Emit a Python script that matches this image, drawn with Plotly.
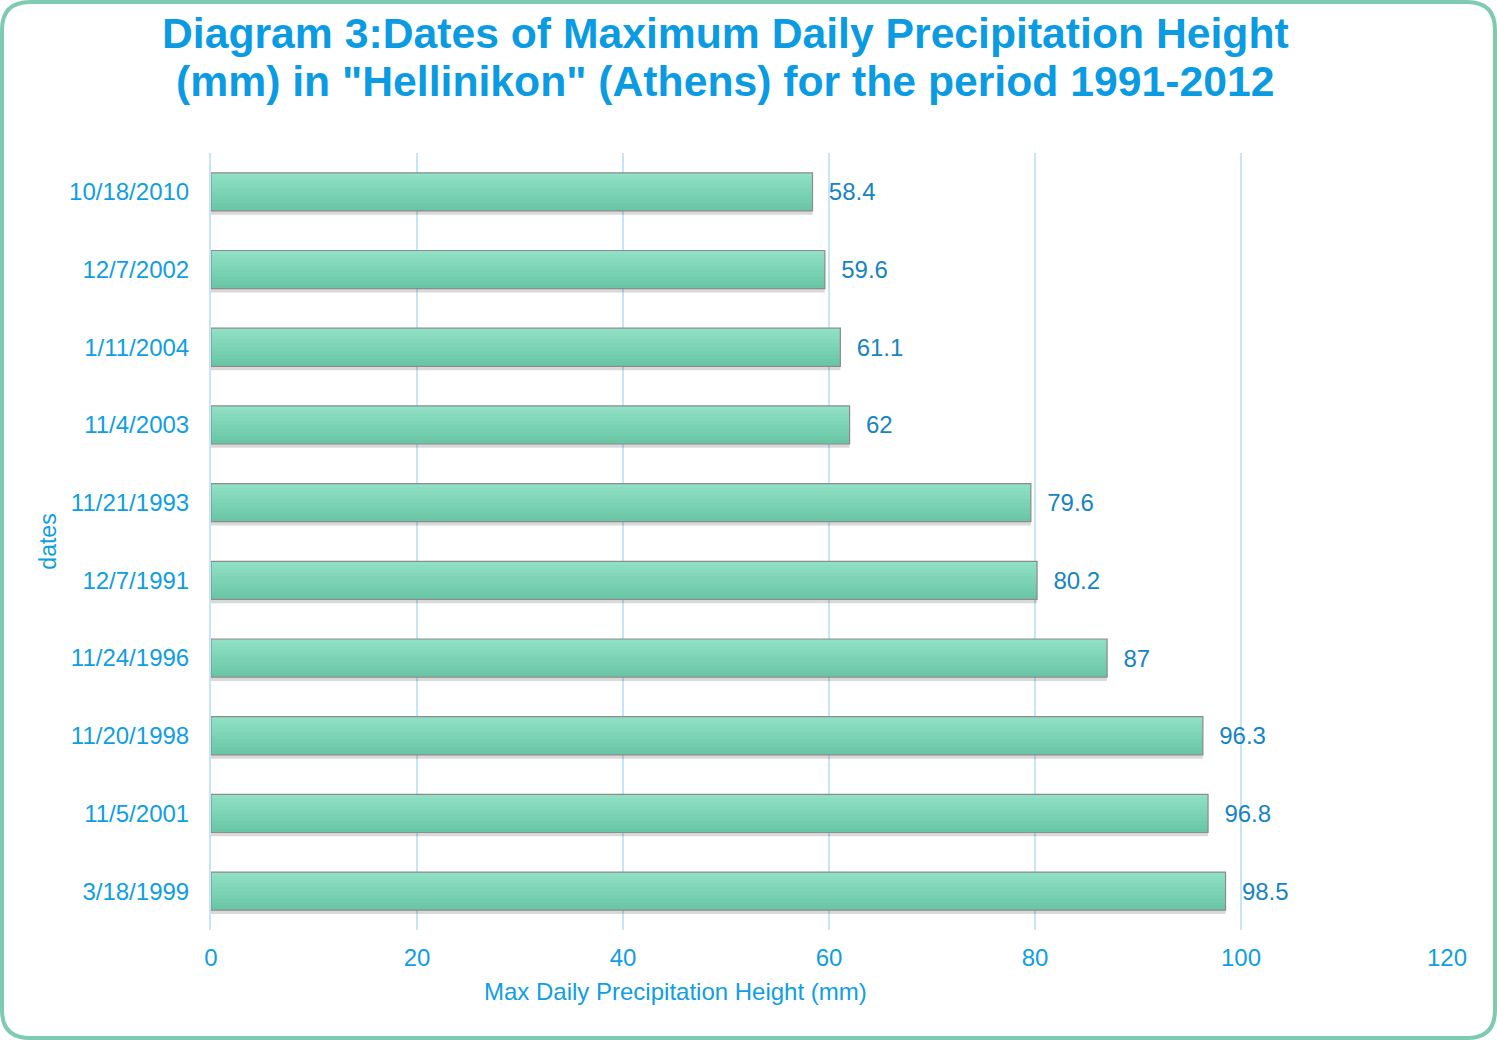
import plotly.graph_objects as go

dates = ["10/18/2010", "12/7/2002", "1/11/2004", "11/4/2003", "11/21/1993",
         "12/7/1991", "11/24/1996", "11/20/1998", "11/5/2001", "3/18/1999"]
values = [58.4, 59.6, 61.1, 62, 79.6, 80.2, 87, 96.3, 96.8, 98.5]
x_ticks = [0, 20, 40, 60, 80, 100, 120]
title_lines = ["Diagram 3:Dates of Maximum Daily Precipitation Height",
               "(mm) in \"Hellinikon\" (Athens) for the period 1991-2012"]

W, H = 1497, 1040
L, R, T, B = 211, 50, 153, 110
pw, ph = W - L - R, H - T - B

def px(x):
    return (x - L) / pw

def py(y):
    return (H - B - y) / ph

FONT = "Liberation Sans, Arial, sans-serif"
BLUE = "#0f9ee3"
LBLUE = "#1784c2"
BW = 0.49

fig = go.Figure()

# soft shadow below bars
fig.add_trace(go.Bar(
    y=dates, x=values, orientation="h", width=BW, offset=-BW / 2 + 0.05,
    marker=dict(color="rgba(0,0,0,0.15)", line=dict(width=0)),
    hoverinfo="skip",
))

# vertical gradient (top light -> bottom darker) built from strips
n = 10
top_c = (143, 224, 197)
bot_c = (106, 198, 166)
sw = BW / n
for i in range(n):
    t = i / (n - 1)
    c = tuple(round(top_c[k] + (bot_c[k] - top_c[k]) * t) for k in range(3))
    w = sw if i == n - 1 else sw * 1.8
    fig.add_trace(go.Bar(
        y=dates, x=values, orientation="h", width=w,
        offset=-BW / 2 + i * sw,
        marker=dict(color=f"rgb{c}", line=dict(width=0)),
        hoverinfo="skip",
    ))

# outline + value labels
fig.add_trace(go.Bar(
    y=dates, x=values, orientation="h", width=BW,
    marker=dict(color="rgba(0,0,0,0)", line=dict(color="#8c8c8c", width=1.2)),
    texttemplate="\u00a0\u00a0%{x}", textposition="outside",
    textfont=dict(family=FONT, size=24, color=LBLUE),
    cliponaxis=False,
    hoverinfo="x+y",
))

# rounded frame
x0, y0, x1, y1, r = px(2), py(2), px(1495), py(1038), 28
rx, ry = r / pw, r / ph
path = (f"M {x0+rx},{y0} L {x1-rx},{y0} Q {x1},{y0} {x1},{y0-ry} "
        f"L {x1},{y1+ry} Q {x1},{y1} {x1-rx},{y1} L {x0+rx},{y1} "
        f"Q {x0},{y1} {x0},{y1+ry} L {x0},{y0-ry} Q {x0},{y0} {x0+rx},{y0} Z")
fig.add_shape(type="path", path=path, xref="paper", yref="paper",
              line=dict(color="#7fcbb0", width=4), layer="below")

# title lines
for txt, yc in zip(title_lines, [33, 81]):
    fig.add_annotation(text=f"<b>{txt}</b>", xref="paper", yref="paper",
                       x=px(725), y=py(yc), xanchor="center", yanchor="middle",
                       showarrow=False,
                       font=dict(family=FONT, size=42.7, color="#0a9be3"))

# x axis title
fig.add_annotation(text="Max Daily Precipitation Height (mm)", xref="paper", yref="paper",
                   x=px(675), y=py(991), xanchor="center", yanchor="middle",
                   showarrow=False, font=dict(family=FONT, size=24, color=BLUE))

fig.update_layout(
    width=W, height=H,
    margin=dict(l=L, r=R, t=T, b=B),
    paper_bgcolor="white", plot_bgcolor="white",
    showlegend=False, barmode="overlay",
    xaxis=dict(
        range=[0, 120], tickvals=x_ticks, showgrid=True,
        gridcolor="#c6e5f7", gridwidth=2, zeroline=False,
        showline=False, ticks="", ticklabelstandoff=11,
        tickfont=dict(family=FONT, size=24, color=BLUE),
    ),
    yaxis=dict(
        autorange="reversed", showgrid=False, ticks="",
        showline=True, linecolor="#c6e5f7", linewidth=2,
        ticklabelstandoff=15,
        tickfont=dict(family=FONT, size=24, color=BLUE),
        title=dict(text="dates", standoff=6,
                   font=dict(family=FONT, size=23, color=BLUE)),
    ),
)

fig.write_html("out.html")
